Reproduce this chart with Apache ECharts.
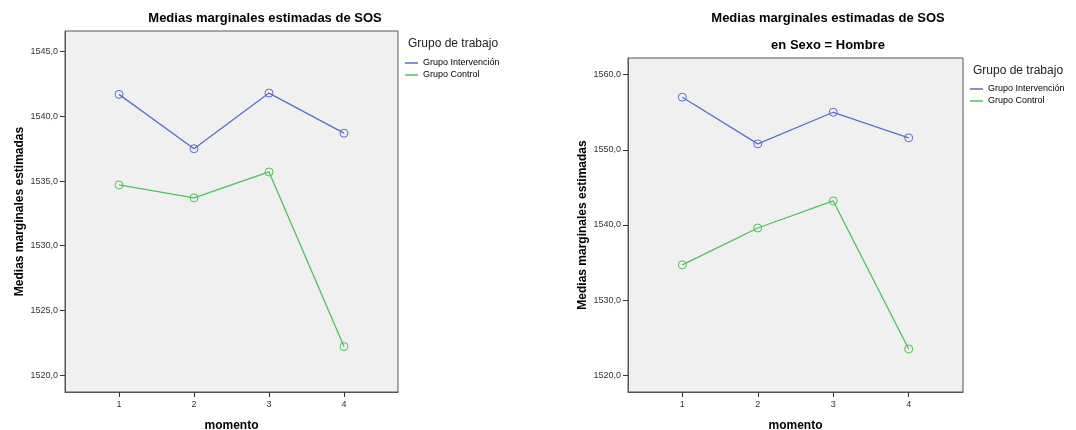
<!DOCTYPE html>
<html>
<head>
<meta charset="UTF-8">
<title>Medias marginales estimadas de SOS</title>
<script src="https://cdn.jsdelivr.net/npm/echarts@6/dist/echarts.min.js"></script>
<style>
  html, body { margin: 0; padding: 0; background: #fff; }
  #chart { width: 1076px; height: 430px; }
</style>
</head>
<body>
<div id="chart"></div>
<script>
// momento (x categories)
var momentos = [1, 2, 3, 4];
var grupos = ['Grupo Intervención', 'Grupo Control'];

// left chart: all subjects
var totalIntervencion = [1541.7, 1537.5, 1541.8, 1538.7];
var totalControl = [1534.7, 1533.7, 1535.7, 1522.2];
var totalTicks = [1520, 1525, 1530, 1535, 1540, 1545];

// right chart: Sexo = Hombre
var hombreIntervencion = [1557.0, 1550.8, 1555.0, 1551.6];
var hombreControl = [1534.7, 1539.6, 1543.2, 1523.5];
var hombreTicks = [1520, 1530, 1540, 1550, 1560];

var FONT = 'Arial, "Liberation Sans", sans-serif';
var BLUE = '#5a6ecb';
var GREEN = '#4cc35a';

function fmt(v) { return v.toFixed(1).replace('.', ','); }
function pairs(vals) { return momentos.map(function (m, i) { return [m, vals[i]]; }); }

function xAxisFor(idx) {
  return {
    gridIndex: idx, type: 'value', min: 0.28, max: 4.72,
    name: 'momento', nameLocation: 'middle', nameGap: 28,
    nameTextStyle: { fontFamily: FONT, fontWeight: 'bold', fontSize: 12, color: '#000' },
    axisLine: { show: true, lineStyle: { color: '#555', width: 1 } },
    axisTick: { show: true, length: 5, customValues: momentos, lineStyle: { color: '#333' } },
    axisLabel: { customValues: momentos, margin: 8, fontFamily: FONT, fontSize: 9, color: '#333' },
    splitLine: { show: false }
  };
}
function yAxisFor(idx, min, max, ticks) {
  return {
    gridIndex: idx, type: 'value', min: min, max: max,
    name: 'Medias marginales estimadas', nameLocation: 'middle', nameRotate: 90, nameGap: 39,
    nameTextStyle: { fontFamily: FONT, fontWeight: 'bold', fontSize: 12, color: '#000' },
    axisLine: { show: true, lineStyle: { color: '#555', width: 1 } },
    axisTick: { show: true, length: 5, customValues: ticks, lineStyle: { color: '#333' } },
    axisLabel: { customValues: ticks, margin: 7, fontFamily: FONT, fontSize: 9, color: '#333', formatter: fmt },
    splitLine: { show: false }
  };
}
function lineSeries(name, idx, vals, color) {
  return {
    name: name, type: 'line', xAxisIndex: idx, yAxisIndex: idx,
    data: pairs(vals), symbol: 'circle', symbolSize: 8,
    lineStyle: { color: color, width: 1.3 },
    itemStyle: { color: 'rgba(0,0,0,0)', borderColor: color, borderWidth: 1 },
    emphasis: { disabled: true }, animation: false
  };
}
function legendFor(left, top) {
  return {
    left: left, top: top, orient: 'vertical', icon: 'rect',
    itemWidth: 13, itemHeight: 1.5, itemGap: 2,
    textStyle: { fontFamily: FONT, fontSize: 9, color: '#000', lineHeight: 10 },
    data: [
      { name: grupos[0], itemStyle: { color: BLUE, borderWidth: 0 } },
      { name: grupos[1], itemStyle: { color: GREEN, borderWidth: 0 } }
    ]
  };
}

var bigTitle = { fontFamily: FONT, fontWeight: 'bold', fontSize: 13, color: '#000' };
var legTitle = { fontFamily: FONT, fontWeight: 'normal', fontSize: 12, color: '#222' };

var option = {
  backgroundColor: '#fff',
  animation: false,
  title: [
    { text: 'Medias marginales estimadas de SOS', left: 265, top: 12, textAlign: 'center', padding: 0, textStyle: bigTitle },
    { text: 'Medias marginales estimadas de SOS', left: 828, top: 12, textAlign: 'center', padding: 0, textStyle: bigTitle },
    { text: 'en Sexo = Hombre', left: 828, top: 39, textAlign: 'center', padding: 0, textStyle: bigTitle },
    { text: 'Grupo de trabajo', left: 408, top: 38, padding: 0, textStyle: legTitle },
    { text: 'Grupo de trabajo', left: 973, top: 65, padding: 0, textStyle: legTitle }
  ],
  legend: [legendFor(400, 53), legendFor(965, 79)],
  grid: [
    { left: 65, top: 31, width: 333, height: 361, outerBoundsMode: 'none', containLabel: false,
      show: true, backgroundColor: '#f0f0f0', borderColor: '#555', borderWidth: 1 },
    { left: 628, top: 58, width: 335, height: 334, outerBoundsMode: 'none', containLabel: false,
      show: true, backgroundColor: '#f0f0f0', borderColor: '#555', borderWidth: 1 }
  ],
  xAxis: [xAxisFor(0), xAxisFor(1)],
  yAxis: [
    yAxisFor(0, 1518.69, 1546.6, totalTicks),
    yAxisFor(1, 1517.78, 1562.22, hombreTicks)
  ],
  series: [
    lineSeries(grupos[0], 0, totalIntervencion, BLUE),
    lineSeries(grupos[1], 0, totalControl, GREEN),
    lineSeries(grupos[0], 1, hombreIntervencion, BLUE),
    lineSeries(grupos[1], 1, hombreControl, GREEN)
  ]
};

var chart = echarts.init(document.getElementById('chart'), null, { renderer: 'canvas' });
chart.setOption(option);
</script>
</body>
</html>
